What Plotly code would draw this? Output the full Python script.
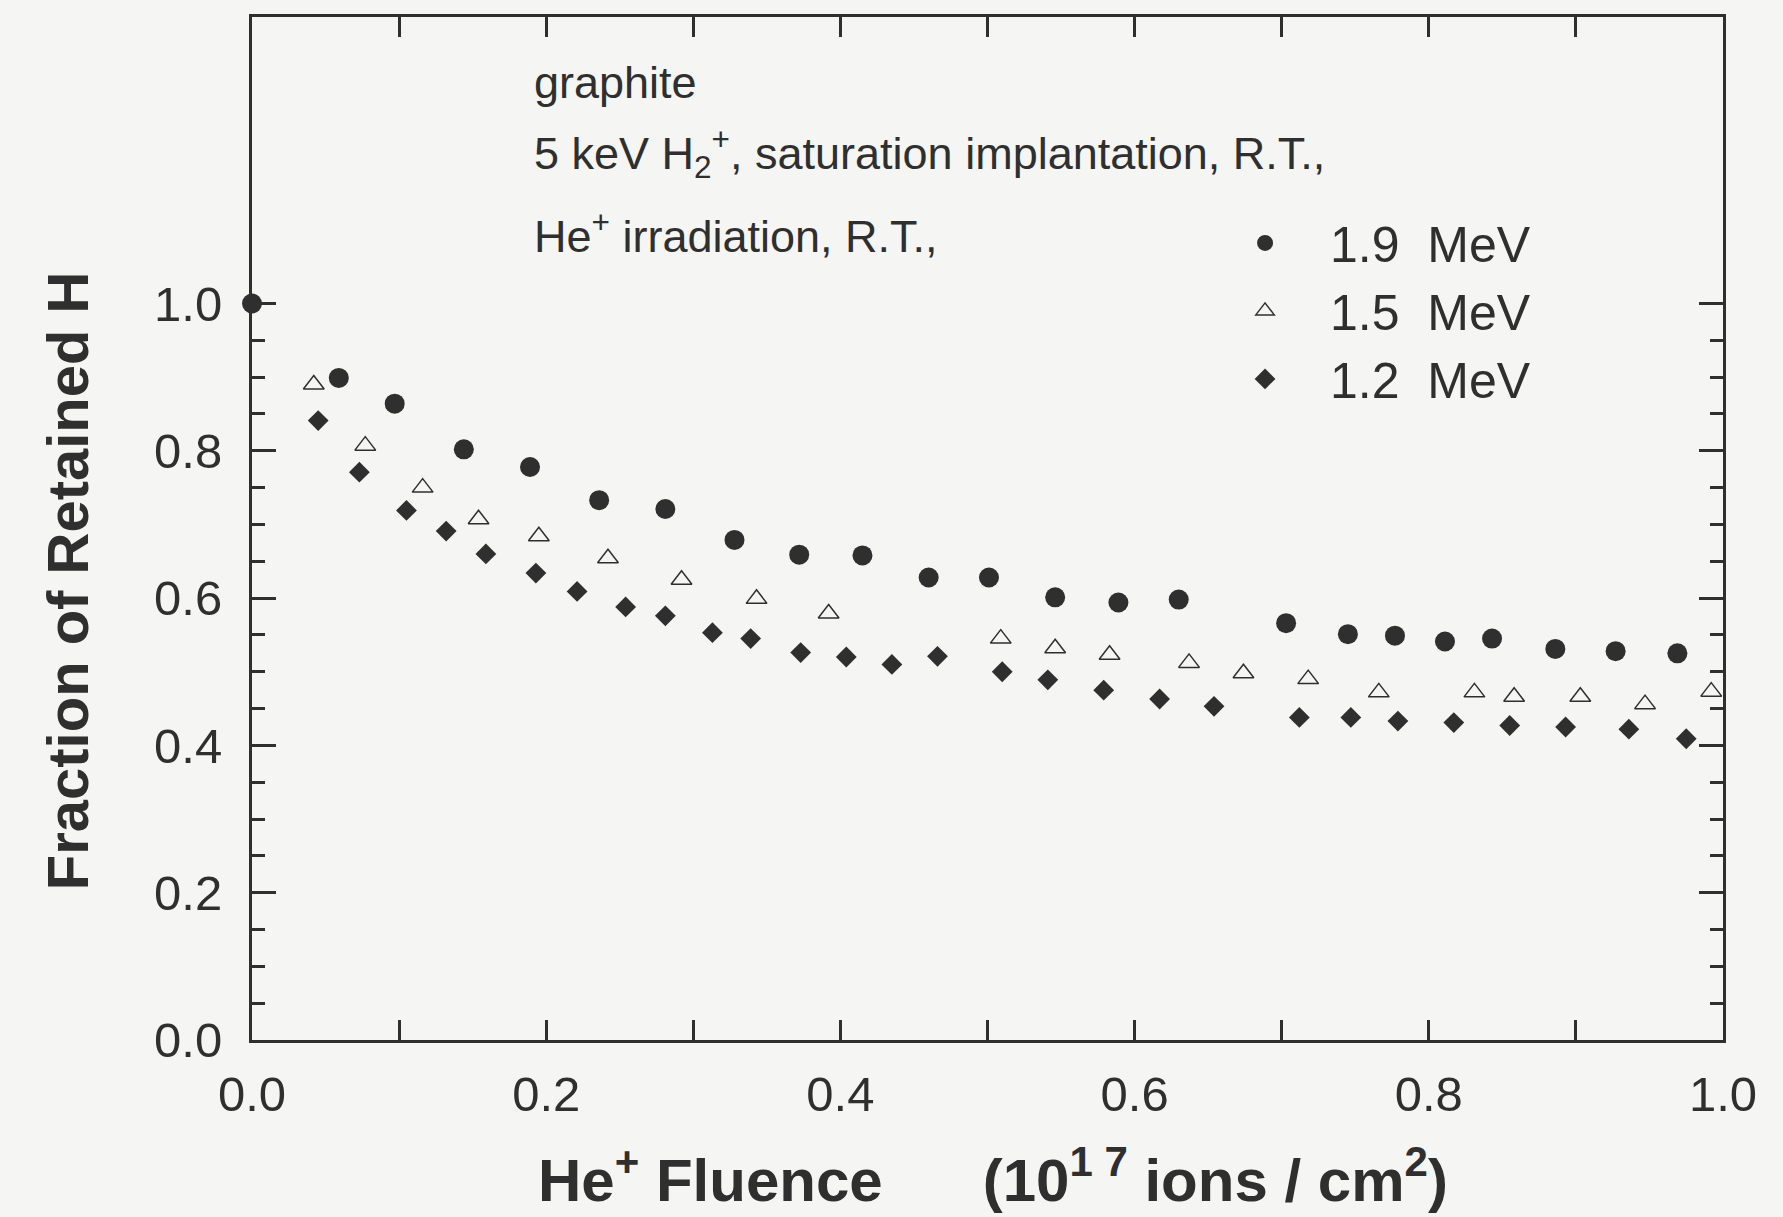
import plotly.graph_objects as go

# ---- data ----
x_19 = [0.0, 0.059, 0.097, 0.144, 0.189, 0.236, 0.281, 0.328, 0.372, 0.415, 0.460, 0.501,
        0.546, 0.589, 0.630, 0.703, 0.745, 0.777, 0.811, 0.843, 0.886, 0.927, 0.969]
y_19 = [1.0, 0.899, 0.864, 0.802, 0.778, 0.733, 0.721, 0.679, 0.659, 0.658, 0.628, 0.628,
        0.601, 0.594, 0.598, 0.566, 0.551, 0.549, 0.541, 0.545, 0.531, 0.528, 0.525]

x_15 = [0.042, 0.077, 0.116, 0.154, 0.195, 0.242, 0.292, 0.343, 0.392, 0.509, 0.546, 0.583,
        0.637, 0.674, 0.718, 0.766, 0.831, 0.858, 0.903, 0.947, 0.992]
y_15 = [0.890, 0.807, 0.750, 0.707, 0.684, 0.654, 0.625, 0.599, 0.579, 0.545, 0.532, 0.523,
        0.512, 0.498, 0.490, 0.472, 0.472, 0.466, 0.466, 0.456, 0.473]

x_12 = [0.045, 0.073, 0.105, 0.132, 0.159, 0.193, 0.221, 0.254, 0.281, 0.313, 0.339, 0.373,
        0.404, 0.435, 0.466, 0.510, 0.541, 0.579, 0.617, 0.654, 0.712, 0.747, 0.779, 0.817,
        0.855, 0.893, 0.936, 0.975]
y_12 = [0.841, 0.771, 0.719, 0.691, 0.660, 0.634, 0.609, 0.588, 0.576, 0.553, 0.545, 0.526,
        0.520, 0.510, 0.521, 0.500, 0.489, 0.475, 0.463, 0.453, 0.438, 0.438, 0.433, 0.431,
        0.427, 0.425, 0.422, 0.409]

series_names = ["1.9\u00a0\u00a0MeV", "1.5\u00a0\u00a0MeV", "1.2\u00a0\u00a0MeV"]

x_tickvals = [0.0, 0.2, 0.4, 0.6, 0.8, 1.0]
x_ticktext = ["0.0", "0.2", "0.4", "0.6", "0.8", "1.0"]
x_minorvals = [0.1, 0.3, 0.5, 0.7, 0.9]
y_tickvals = [0.0, 0.2, 0.4, 0.6, 0.8, 1.0]
y_ticktext = ["0.0", "0.2", "0.4", "0.6", "0.8", "1.0"]
y_minorvals = [0.05, 0.1, 0.15, 0.25, 0.3, 0.35, 0.45, 0.5, 0.55, 0.65, 0.7, 0.75,
               0.85, 0.9, 0.95]

INK = "#2f2f2f"
BG = "#f5f5f3"
FONT = "Liberation Sans, Arial, sans-serif"

fig = go.Figure()
fig.add_trace(go.Scatter(x=x_19, y=y_19, mode="markers", name=series_names[0],
                         marker=dict(symbol="circle", size=20, color=INK, line=dict(width=0)),
                         cliponaxis=False))
fig.add_trace(go.Scatter(x=x_15, y=y_15, mode="markers", name=series_names[1],
                         marker=dict(symbol="triangle-up-open", size=18, color=INK,
                                     line=dict(width=1.5, color=INK)),
                         cliponaxis=False))
fig.add_trace(go.Scatter(x=x_12, y=y_12, mode="markers", name=series_names[2],
                         marker=dict(symbol="diamond", size=16, color=INK, line=dict(width=0)),
                         cliponaxis=False))

# plot area in pixels: left 252, right 1723, top 17, bottom 1040
L, R, T, B = 252.4, 1722.7, 17.0, 1040.5
W, H = 1783, 1217
pw, ph = R - L, B - T


def px(xp):
    return (xp - L) / pw


def py(yp):
    return (B - yp) / ph


fig.update_layout(
    width=W, height=H,
    margin=dict(l=L, r=W - R, t=T, b=H - B, pad=0),
    paper_bgcolor=BG, plot_bgcolor=BG,
    font=dict(family=FONT, color=INK),
    showlegend=True,
    legend=dict(x=px(1200), y=py(204), xanchor="left", yanchor="top",
                bgcolor="rgba(0,0,0,0)", font=dict(size=50, family=FONT, color=INK),
                itemwidth=120, itemsizing="trace", tracegroupgap=0),
    xaxis=dict(range=[0, 1.0], tickmode="array", tickvals=x_tickvals, ticktext=x_ticktext,
               ticks="inside", ticklen=20, tickwidth=3, tickcolor=INK,
               minor=dict(tickmode="array", tickvals=x_minorvals, ticks="inside",
                          ticklen=20, tickwidth=3, tickcolor=INK, showgrid=False),
               showline=True, linewidth=3, linecolor=INK, mirror="allticks",
               showgrid=False, zeroline=False,
               tickfont=dict(size=49, family=FONT, color=INK), ticklabelstandoff=9),
    yaxis=dict(range=[0, 1.389], tickmode="array", tickvals=y_tickvals, ticktext=y_ticktext,
               ticks="inside", ticklen=24, tickwidth=3, tickcolor=INK,
               showline=True, linewidth=3, linecolor=INK, mirror="allticks",
               showgrid=False, zeroline=False,
               minor=dict(tickmode="array", tickvals=y_minorvals, ticks="inside",
                          ticklen=13, tickwidth=3, tickcolor=INK, showgrid=False),
               tickfont=dict(size=49, family=FONT, color=INK), ticklabelstandoff=17),
)

anns = [
    dict(text="graphite", x=px(532), y=py(83), size=45),
    dict(text="5 keV H<sub>2</sub><sup>+</sup>, saturation implantation, R.T.,",
         x=px(532), y=py(153), size=45),
    dict(text="He<sup>+</sup> irradiation, R.T.,", x=px(532), y=py(233), size=45),
]
for a in anns:
    fig.add_annotation(text=a["text"], x=a["x"], y=a["y"], xref="paper", yref="paper",
                       xanchor="left", yanchor="middle", showarrow=False,
                       font=dict(size=a["size"], family=FONT, color=INK))

fig.add_annotation(
    text="He<sup>+</sup> Fluence\u00a0\u00a0\u00a0\u00a0\u00a0\u00a0(10<sup>1 7</sup> ions / cm<sup>2</sup>)",
    x=px(993), y=py(1177), xref="paper", yref="paper", xanchor="center", yanchor="middle",
    showarrow=False, font=dict(size=60, family=FONT, color=INK, weight="bold"))
fig.add_annotation(
    text="Fraction of Retained H", textangle=-90,
    x=px(68), y=py(581), xref="paper", yref="paper", xanchor="center", yanchor="middle",
    showarrow=False, font=dict(size=58, family=FONT, color=INK, weight="bold"))

fig.write_html("out.html")
